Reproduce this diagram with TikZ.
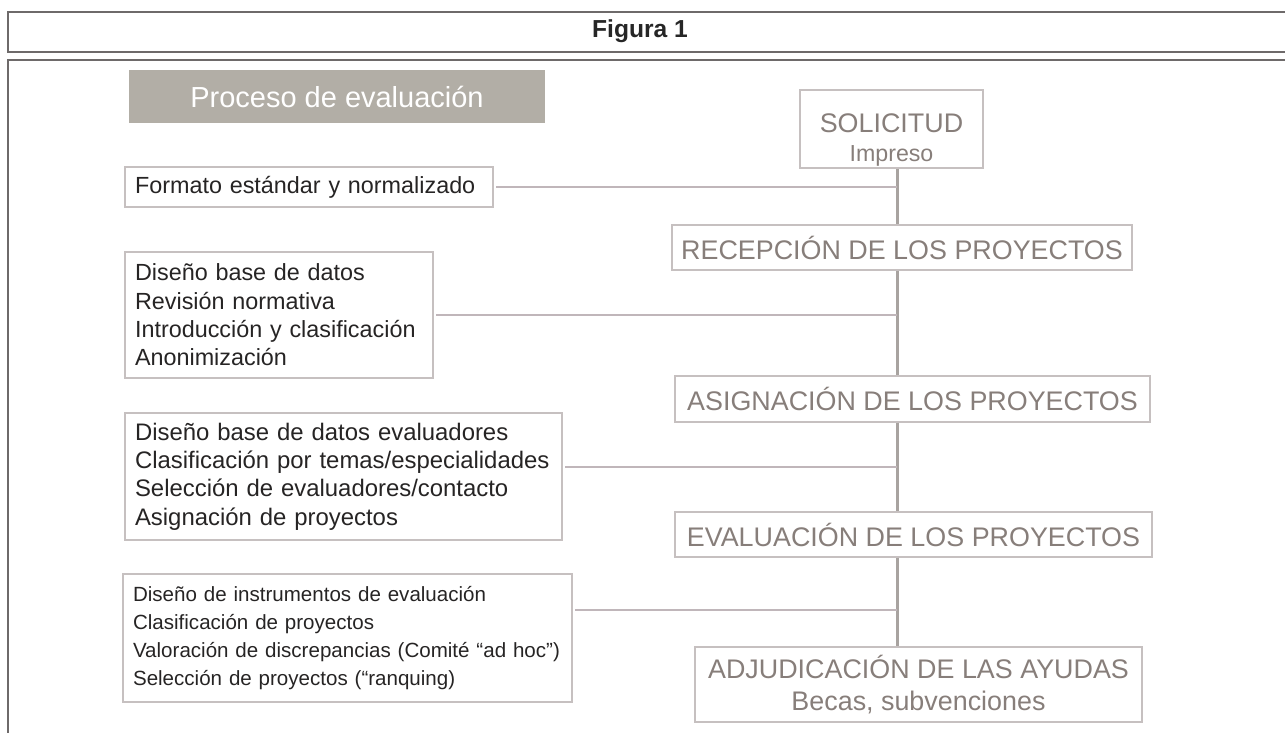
\documentclass[tikz,border=0pt]{standalone}
\usepackage{fontspec}
\setmainfont{Liberation Sans}
\definecolor{framegray}{RGB}{110,106,106}
\definecolor{boxgray}{RGB}{198,192,192}
\definecolor{stagegray}{RGB}{135,126,122}
\definecolor{headfill}{RGB}{178,174,166}
\definecolor{trunkgray}{RGB}{168,163,160}
\definecolor{branchgray}{RGB}{192,182,186}
\definecolor{taskblack}{RGB}{38,36,36}
\begin{document}
\begin{tikzpicture}[
	x=0.02cm, y=-0.02cm,
	outerline/.style={draw=framegray,line width=1.1pt},
	stage/.style={rectangle,draw=boxgray,line width=0.8pt,text=stagegray,align=center,inner sep=0pt,font=\fontsize{15.3}{18}\selectfont},
	task/.style={rectangle,draw=boxgray,line width=0.8pt,text=taskblack,align=left,inner xsep=0.2cm,inner ysep=0pt,font=\fontsize{13.6}{16.1}\selectfont},
	trunk/.style={draw=trunkgray,line width=1.7pt},
	branch/.style={draw=branchgray,line width=0.8pt,shorten <=1.5pt},
	]
\useasboundingbox (0,0) rectangle (1285,733);
% frames
\draw[outerline] (8,12) rectangle (1300,52);
\draw[outerline] (1300,60) -- (8,60) -- (8,745);
\node [font=\bfseries\fontsize{14}{16}\selectfont,text=black!85] (fig) at (640,31) {Figura 1};
\node [fill=headfill,text=white,minimum width=8.32cm,minimum height=1.06cm,inner sep=0pt,font=\fontsize{16.5}{18}\selectfont] (title) at (337,96.5) {Proceso de evaluación};
% stages
\node [stage,minimum width=3.66cm,minimum height=1.56cm] (sol) at (891.5,129) {\rule{0pt}{23pt}SOLICITUD\\[-1.5pt]{\fontsize{13.2}{15}\selectfont Impreso}};
\node [stage,minimum width=9.2cm,minimum height=0.9cm] (rec) at (902,247.5) {RECEPCIÓN DE LOS PROYECTOS};
\node [stage,minimum width=9.5cm,minimum height=0.92cm] (asi) at (912.5,399) {ASIGNACIÓN DE LOS PROYECTOS};
\node [stage,minimum width=9.54cm,minimum height=0.9cm] (eva) at (913.5,534.5) {EVALUACIÓN DE LOS PROYECTOS};
\node [stage,minimum width=8.94cm,minimum height=1.5cm] (adj) at (918.5,684.5) {ADJUDICACIÓN DE LAS AYUDAS\\Becas, subvenciones};
% tasks
\node [task,text width=6.96cm,minimum height=0.8cm,font=\fontsize{13.3}{16.1}\selectfont] (fmt) at (309,187) {Formato estándar y normalizado};
\node [task,text width=5.76cm,minimum height=2.52cm,font=\fontsize{13.3}{16.1}\selectfont] (bd) at (279,315) {Diseño base de datos\\Revisión normativa\\Introducción y clasificación\\Anonimización};
\node [task,text width=8.34cm,minimum height=2.54cm] (evr) at (343.5,476.5) {Diseño base de datos evaluadores\\Clasificación por temas/especialidades\\Selección de evaluadores/contacto\\Asignación de proyectos};
\node [task,text width=8.58cm,minimum height=2.56cm,font=\fontsize{11.7}{16.1}\selectfont] (ins) at (347.5,638) {Diseño de instrumentos de evaluación\\Clasificación de proyectos\\Valoración de discrepancias (Comité “ad hoc”)\\Selección de proyectos (“ranquing)};
% connectors
\coordinate (t) at (897,0);
\coordinate (y3) at (0,467);
\coordinate (y4) at (0,610);
\foreach \a/\b in {sol/rec,rec/asi,asi/eva,eva/adj}
	\draw[trunk] (\a.south -| t) -- (\b.north -| t);
\draw[branch] (fmt.east) -- (fmt.east -| t);
\draw[branch] (bd.east) -- (bd.east -| t);
\draw[branch] (evr.east |- y3) -- (t |- y3);
\draw[branch] (ins.east |- y4) -- (t |- y4);
\end{tikzpicture}
\end{document}
